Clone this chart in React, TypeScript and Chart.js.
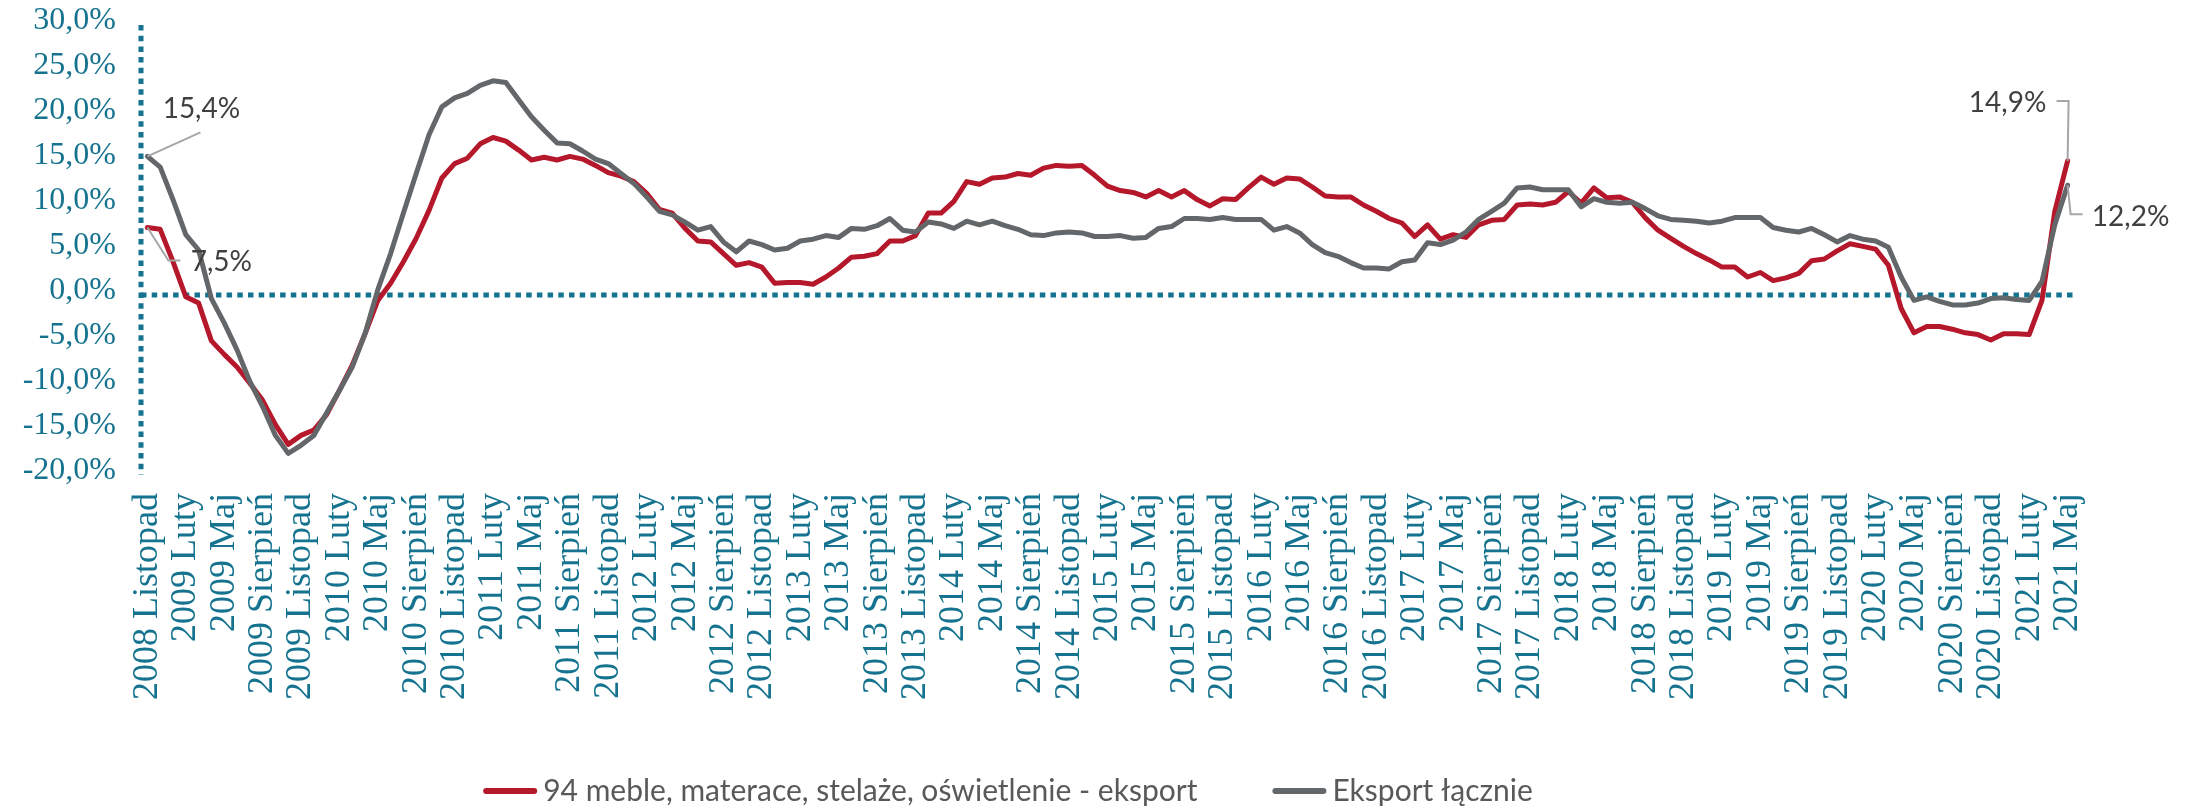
import React, { useEffect, useRef } from 'react';
import { Chart, registerables } from 'chart.js';

Chart.register(...registerables);

// ---------- data ----------
const MONTHS = ['Styczeń', 'Luty', 'Marzec', 'Kwiecień', 'Maj', 'Czerwiec', 'Lipiec', 'Sierpień', 'Wrzesień', 'Październik', 'Listopad', 'Grudzień'];
const START_YEAR = 2008;
const START_MONTH = 10; // Listopad
const POINT_COUNT = 151;
const CATEGORIES: string[] = [];
for (let k = 0; k < POINT_COUNT; k++) {
  const m = START_MONTH + k;
  CATEGORIES.push(`${START_YEAR + Math.floor(m / 12)} ${MONTHS[m % 12]}`);
}
const LABEL_EVERY = 3;

const SERIES_FURNITURE_LABEL = '94 meble, materace, stelaże, oświetlenie - eksport';
const SERIES_FURNITURE = [
  7.5, 7.3, 3.7, -0.2, -0.9, -5.1, -6.6, -8.0, -9.8, -11.7,
  -14.4, -16.6, -15.6, -15.0, -13.3, -10.6, -7.8, -4.3, -0.6, 1.3,
  3.7, 6.3, 9.4, 13.0, 14.6, 15.2, 16.8, 17.5, 17.1, 16.1,
  15.0, 15.3, 15.0, 15.4, 15.1, 14.4, 13.6, 13.2, 12.6, 11.3,
  9.5, 9.1, 7.4, 6.0, 5.9, 4.6, 3.3, 3.6, 3.1, 1.3,
  1.4, 1.4, 1.2, 2.0, 3.0, 4.2, 4.3, 4.6, 6.0, 6.0,
  6.6, 9.1, 9.1, 10.4, 12.6, 12.3, 13.0, 13.1, 13.5, 13.3,
  14.1, 14.4, 14.3, 14.4, 13.3, 12.1, 11.6, 11.4, 10.9, 11.6,
  10.9, 11.6, 10.6, 9.9, 10.7, 10.6, 11.9, 13.1, 12.3, 13.0,
  12.9, 12.0, 11.0, 10.9, 10.9, 10.0, 9.3, 8.5, 8.0, 6.5,
  7.8, 6.2, 6.7, 6.4, 7.8, 8.3, 8.4, 10.0, 10.1, 10.0,
  10.3, 11.5, 10.2, 11.9, 10.8, 10.9, 10.3, 8.6, 7.2, 6.3,
  5.4, 4.6, 3.9, 3.1, 3.1, 2.0, 2.5, 1.6, 1.9, 2.4,
  3.8, 4.0, 4.9, 5.7, 5.4, 5.1, 3.3, -1.5, -4.2, -3.5,
  -3.5, -3.8, -4.2, -4.4, -5.0, -4.3, -4.3, -4.4, -0.6, 9.3,
  14.9,
];

const SERIES_TOTAL_LABEL = 'Eksport łącznie';
const SERIES_TOTAL = [
  15.4, 14.2, 10.6, 6.7, 5.0, -0.4, -3.1, -6.1, -9.6, -12.4,
  -15.6, -17.6, -16.7, -15.6, -13.1, -10.6, -8.0, -4.3, 0.6, 4.6,
  9.1, 13.5, 17.8, 20.9, 21.9, 22.4, 23.3, 23.8, 23.6, 21.7,
  19.8, 18.3, 16.9, 16.8, 16.0, 15.1, 14.6, 13.5, 12.4, 10.9,
  9.3, 8.9, 8.1, 7.2, 7.6, 5.9, 4.8, 6.0, 5.6, 5.0,
  5.2, 6.0, 6.2, 6.6, 6.4, 7.4, 7.3, 7.7, 8.5, 7.2,
  7.0, 8.1, 7.9, 7.4, 8.2, 7.8, 8.2, 7.7, 7.3, 6.7,
  6.6, 6.9, 7.0, 6.9, 6.5, 6.5, 6.6, 6.3, 6.4, 7.4,
  7.6, 8.5, 8.5, 8.4, 8.6, 8.4, 8.4, 8.4, 7.2, 7.6,
  6.9, 5.6, 4.7, 4.3, 3.6, 3.0, 3.0, 2.9, 3.7, 3.9,
  5.8, 5.6, 6.1, 7.0, 8.4, 9.3, 10.2, 11.9, 12.0, 11.7,
  11.7, 11.7, 9.8, 10.7, 10.3, 10.2, 10.3, 9.6, 8.8, 8.4,
  8.3, 8.2, 8.0, 8.2, 8.6, 8.6, 8.6, 7.5, 7.2, 7.0,
  7.4, 6.7, 5.9, 6.6, 6.2, 6.0, 5.3, 2.0, -0.6, -0.2,
  -0.7, -1.1, -1.1, -0.9, -0.4, -0.3, -0.5, -0.6, 1.5, 7.8,
  12.2,
];

const Y_MIN = -20;
const Y_MAX = 30;
const Y_STEP = 5;

// ---------- styles ----------
const TEAL = '#15738F';
const RED = '#B5182B';
const GRAY = '#63676A';
const LABEL_TEXT = '#404040';
const LEADER = '#A6A6A6';
const LEGEND_TEXT = '#595959';
const SERIF = "'Liberation Serif', 'Times New Roman', serif";
const SANS = "Lato, 'Open Sans', sans-serif";

const fmtPct = (v: number) => v.toFixed(1).replace('.', ',') + '%';

// annotations: dataset index, point index, label offset, leader path (relative to point)
const ANNOTATIONS = [
  { ds: 1, idx: 0, dx: 54, dy: -47, path: [[0, 0], [53, -24]] },
  { ds: 0, idx: 0, dx: 74, dy: 34, path: [[0, 0], [21, 33], [33, 33]] },
  { ds: 0, idx: POINT_COUNT - 1, dx: -60, dy: -58, path: [[0, 0], [1, -60], [-11, -60]] },
  { ds: 1, idx: POINT_COUNT - 1, dx: 63, dy: 32, path: [[0, 0], [3, 29], [15, 29]] },
];

const refLinesPlugin = {
  id: 'refLines',
  beforeDatasetsDraw(chart: any) {
    const { ctx, chartArea } = chart;
    const y0 = chart.scales.y.getPixelForValue(0);
    ctx.save();
    ctx.strokeStyle = TEAL;
    ctx.lineWidth = 5;
    ctx.setLineDash([5.5, 5.2]);
    ctx.beginPath();
    ctx.moveTo(chartArea.left, chartArea.top);
    ctx.lineTo(chartArea.left, chartArea.bottom);
    ctx.stroke();
    ctx.beginPath();
    ctx.moveTo(chartArea.left, y0);
    ctx.lineTo(chartArea.right, y0);
    ctx.stroke();
    ctx.restore();
  },
};

const dataLabelsPlugin = {
  id: 'dataLabels',
  afterDatasetsDraw(chart: any) {
    const { ctx } = chart;
    ctx.save();
    ANNOTATIONS.forEach((a) => {
      const meta = chart.getDatasetMeta(a.ds);
      const pt = meta.data[a.idx];
      if (!pt) return;
      const value = chart.data.datasets[a.ds].data[a.idx] as number;
      ctx.strokeStyle = LEADER;
      ctx.lineWidth = 2;
      ctx.setLineDash([]);
      ctx.beginPath();
      a.path.forEach(([px, py], k) => {
        if (k === 0) ctx.moveTo(pt.x + px, pt.y + py);
        else ctx.lineTo(pt.x + px, pt.y + py);
      });
      ctx.stroke();
      ctx.font = `28px ${SANS}`;
      ctx.fillStyle = LABEL_TEXT;
      ctx.textAlign = 'center';
      ctx.textBaseline = 'middle';
      ctx.fillText(fmtPct(value), pt.x + a.dx, pt.y + a.dy);
    });
    ctx.restore();
  },
};

const legendPlugin = {
  id: 'lineLegend',
  afterDraw(chart: any) {
    const { ctx } = chart;
    const LINE_LEN = 54;
    const TEXT_GAP = 6;
    const ITEM_GAP = 75;
    const y = 791;
    ctx.save();
    ctx.font = `30px ${SANS}`;
    const items = chart.data.datasets.map((ds: any) => ({ text: ds.label, color: ds.borderColor }));
    const widths = items.map((it: any) => LINE_LEN + TEXT_GAP + ctx.measureText(it.text).width);
    const total = widths.reduce((a: number, b: number) => a + b, 0) + ITEM_GAP * (items.length - 1);
    let x = chart.width / 2 - 92 - total / 2;
    items.forEach((it: any, k: number) => {
      ctx.strokeStyle = it.color;
      ctx.lineWidth = 6;
      ctx.lineCap = 'round';
      ctx.beginPath();
      ctx.moveTo(x + 3, y);
      ctx.lineTo(x + LINE_LEN - 3, y);
      ctx.stroke();
      ctx.fillStyle = LEGEND_TEXT;
      ctx.textAlign = 'left';
      ctx.textBaseline = 'middle';
      ctx.fillText(it.text, x + LINE_LEN + TEXT_GAP, y);
      x += widths[k] + ITEM_GAP;
    });
    ctx.restore();
  },
};

export default function App() {
  const canvasRef = useRef<HTMLCanvasElement | null>(null);

  useEffect(() => {
    const canvas = canvasRef.current;
    if (!canvas) return;
    const chart = new Chart(canvas, {
      type: 'line',
      data: {
        labels: CATEGORIES,
        datasets: [
          {
            label: SERIES_FURNITURE_LABEL,
            data: SERIES_FURNITURE,
            borderColor: RED,
            backgroundColor: RED,
            borderWidth: 5,
            pointRadius: 0,
            tension: 0,
            borderJoinStyle: 'round',
            borderCapStyle: 'round',
            order: 1,
          },
          {
            label: SERIES_TOTAL_LABEL,
            data: SERIES_TOTAL,
            borderColor: GRAY,
            backgroundColor: GRAY,
            borderWidth: 5,
            pointRadius: 0,
            tension: 0,
            borderJoinStyle: 'round',
            borderCapStyle: 'round',
            order: 0,
          },
        ],
      },
      options: {
        responsive: false,
        animation: false,
        devicePixelRatio: 1,
        layout: { padding: { top: 25, right: 126, bottom: 0, left: 0 } },
        plugins: {
          legend: { display: false },
          tooltip: { enabled: false },
        },
        scales: {
          x: {
            type: 'category',
            offset: true,
            grid: { display: false, drawTicks: false },
            border: { display: false },
            ticks: {
              autoSkip: false,
              minRotation: 90,
              maxRotation: 90,
              padding: 18,
              color: TEAL,
              font: { family: SERIF, size: 36 },
              callback: (_v: any, idx: number) => (idx % LABEL_EVERY === 0 ? CATEGORIES[idx] : ''),
            },
            afterFit: (s: any) => {
              s.height = 331;
            },
          },
          y: {
            min: Y_MIN,
            max: Y_MAX,
            grid: { display: false, drawTicks: false },
            border: { display: false },
            ticks: {
              stepSize: Y_STEP,
              padding: 25,
              labelOffset: -4,
              color: TEAL,
              font: { family: SERIF, size: 32 },
              callback: (v: any) => fmtPct(Number(v)),
            },
            afterFit: (s: any) => {
              s.width = 141;
              s.paddingTop = 0;
              s.paddingBottom = 0;
            },
          },
        },
      } as any,
      plugins: [refLinesPlugin, dataLabelsPlugin, legendPlugin],
    });
    let alive = true;
    if ((document as any).fonts && (document as any).fonts.load) {
      Promise.all([
        (document as any).fonts.load(`28px Lato`),
        (document as any).fonts.load(`32px 'Liberation Serif'`),
      ]).then(() => {
        if (alive) chart.update();
      }).catch(() => {});
    }
    return () => {
      alive = false;
      chart.destroy();
    };
  }, []);

  return (
    <div style={{ position: 'fixed', left: 0, top: 0, width: 2200, height: 806, background: '#fff' }}>
      <canvas ref={canvasRef} width={2200} height={806} style={{ width: 2200, height: 806, display: 'block' }} />
    </div>
  );
}
